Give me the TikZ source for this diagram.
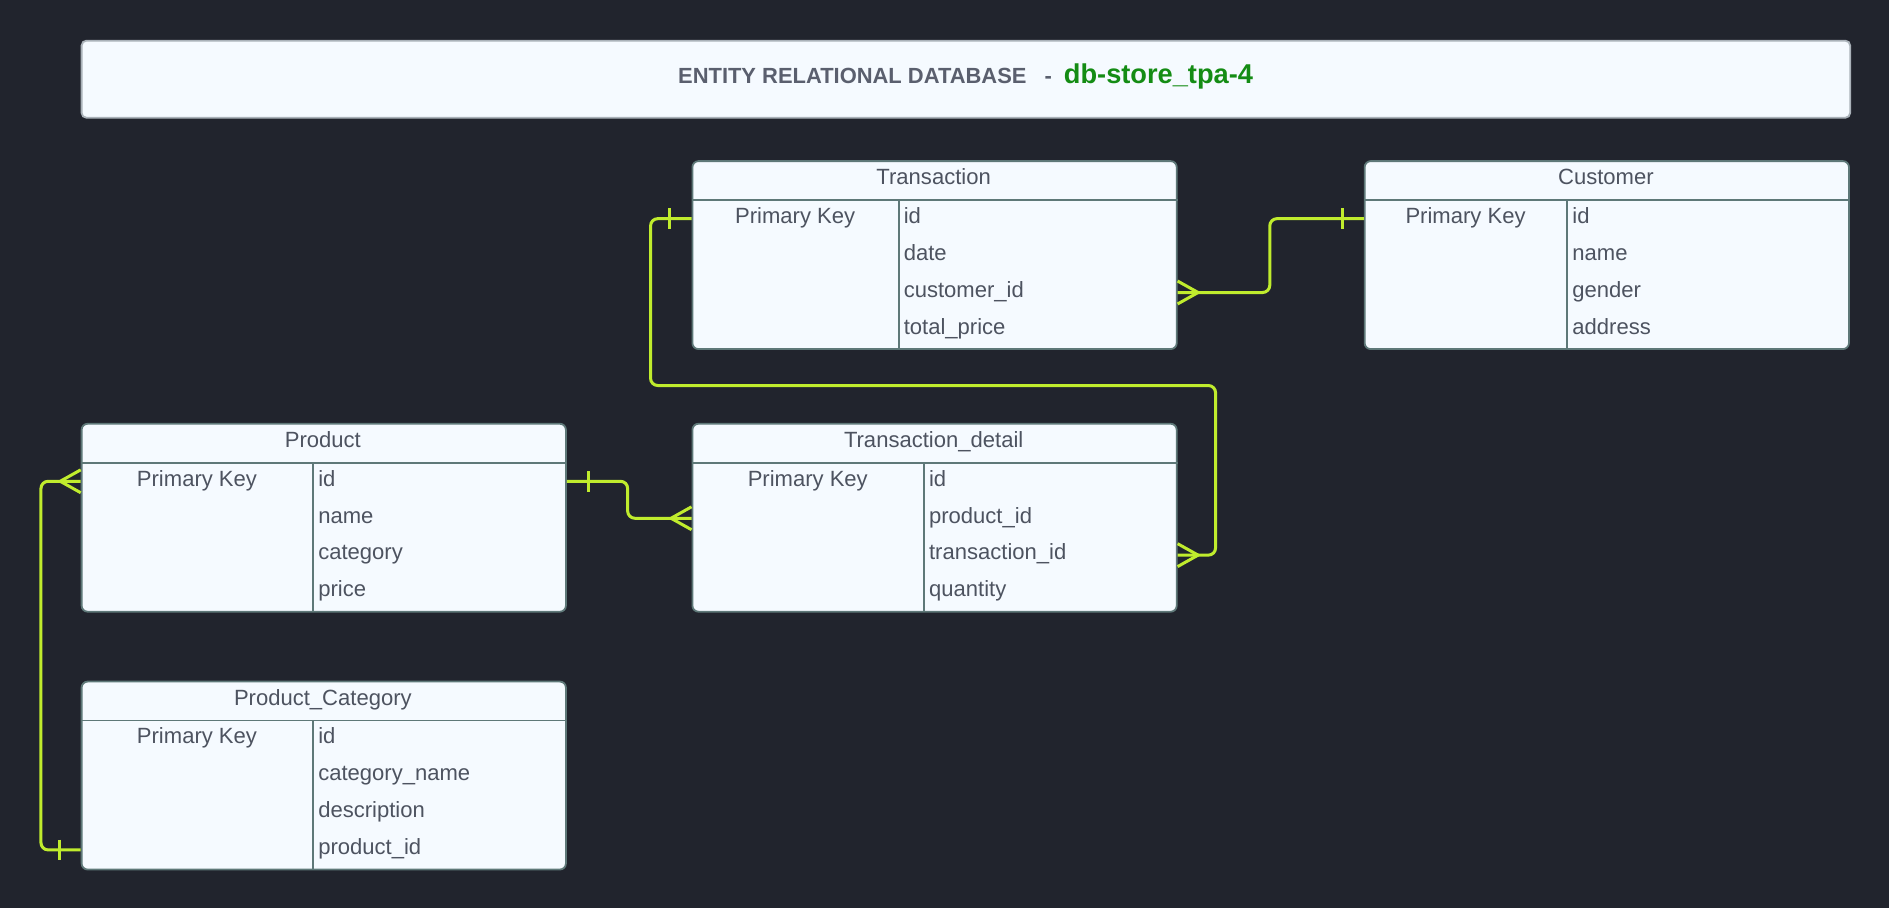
\documentclass[tikz,border=0pt]{standalone}
\usepackage{fontspec}
\setmainfont{Liberation Sans}
\usetikzlibrary{calc}
\definecolor{bgc}{RGB}{33,36,45}
\definecolor{boxf}{RGB}{245,250,255}
\definecolor{boxc}{RGB}{94,120,120}
\definecolor{ttlbox}{RGB}{170,178,185}
\definecolor{txt}{RGB}{77,83,96}
\definecolor{ttlc}{RGB}{90,95,110}
\definecolor{grn}{RGB}{20,140,20}
\definecolor{lime}{RGB}{192,236,45}
\newcommand\fsz[1]{\fontsize{#1}{#1}\selectfont}
\tikzset{
  tbl/.style={draw=boxc, fill=boxf, line width=1.5pt, rounded corners=5pt,
    minimum width=402pt, minimum height=156pt, anchor=north west, inner sep=0pt},
  sep/.style={draw=boxc, line width=1.5pt},
  hdr/.style={font=\fsz{18.3}, text=txt, anchor=base, inner sep=0pt},
  fld/.style={font=\fsz{18.3}, text=txt, anchor=base west, inner sep=0pt},
  conn/.style={draw=lime, line width=2.5pt, rounded corners=6pt},
  foot/.style={draw=lime, line width=2.5pt},
}
\newcommand\ertable[9]{%
  \node[tbl] (#1) at (#2,#3) {};
  \draw[sep] ($(#1.north west)+(0,33)$) -- ($(#1.north east)+(0,33)$);
  \draw[sep] (#2+#4,#3+33) -- (#2+#4,#3+156);
  \node[hdr] (#1-t) at (#2+201,#3+20.5) {#5};
  \node[hdr] (#1-pk) at (#2+#4/2,#3+52.5) {Primary Key};
  \node[fld] (#1-f1) at (#2+#4+4,#3+52.5) {#6};
  \node[fld] (#1-f2) at (#2+#4+4,#3+83.2) {#7};
  \node[fld] (#1-f3) at (#2+#4+4,#3+113.8) {#8};
  \node[fld] (#1-f4) at (#2+#4+4,#3+144.5) {#9};
  \coordinate (#1-r1) at (#2,#3+48.5);
  \coordinate (#1-r2) at (#2,#3+79.2);
  \coordinate (#1-r3) at (#2,#3+109.8);
  \coordinate (#1-r4) at (#2,#3+140.5);
}
\newcommand\crowfoot[2]{%
  \draw[foot] ($(#1)+(#2,0)$) -- ($(#1)+(0,-9.5)$)
              ($(#1)+(#2,0)$) -- ($(#1)+(0,9.5)$);}
\newcommand\onebar[2]{%
  \draw[foot] ($(#1)+(#2,-8.5)$) -- ($(#1)+(#2,8.5)$);}
\begin{document}
\begin{tikzpicture}[x=1pt,y=-1pt]
  \fill[bgc] (0,0) rectangle (1568,754);
  \useasboundingbox (0,0) rectangle (1568,754);
  % title
  \node[draw=ttlbox, fill=boxf, line width=1.5pt, rounded corners=4pt,
        minimum width=1468pt, minimum height=64pt, anchor=north west, inner sep=0pt]
        (title) at (67,33) {};
  \node[anchor=base, inner sep=0pt] (titletext) at (801.5,69)
    {{\color{ttlc}\bfseries\fsz{18.2}ENTITY RELATIONAL DATABASE\hspace{15pt}-\hspace{10pt}}{\color{grn}\bfseries\fsz{22.6}db-store\_tpa-4}};
  % tables
  \ertable{trans}{574}{133}{172}{Transaction}{id}{date}{customer\_id}{total\_price}
  \ertable{cust}{1132}{133}{169}{Customer}{id}{name}{gender}{address}
  \ertable{prod}{67}{351}{193}{Product}{id}{name}{category}{price}
  \ertable{tdet}{574}{351}{193}{Transaction\_detail}{id}{product\_id}{transaction\_id}{quantity}
  \ertable{pcat}{67}{565}{193}{Product\_Category}{id}{category\_name}{description}{product\_id}
  % connector end points
  \coordinate (a1) at (trans.west |- trans-r1);
  \coordinate (a2) at (tdet.east |- tdet-r3);
  \coordinate (b1) at (cust.west |- cust-r1);
  \coordinate (b2) at (trans.east |- trans-r3);
  \coordinate (c1) at (prod.east |- prod-r1);
  \coordinate (c2) at (tdet.west |- tdet-r2);
  \coordinate (d1) at (pcat.west |- pcat-r4);
  \coordinate (d2) at (prod.west |- prod-r1);
  % connectors
  \draw[conn] (a1) -| (540,320) -| (1009,0 |- a2) -- (a2);
  \draw[conn] (b1) -| (1054,0 |- b2) -- (b2);
  \draw[conn] (c1) -| (521,0 |- c2) -- (c2);
  \draw[conn] (d1) -| (34,0 |- d2) -- (d2);
  % ends
  \onebar{a1}{-18} \crowfoot{a2}{17}
  \onebar{b1}{-18} \crowfoot{b2}{17}
  \onebar{c1}{18}  \crowfoot{c2}{-17}
  \onebar{d1}{-18} \crowfoot{d2}{-17}
\end{tikzpicture}
\end{document}
